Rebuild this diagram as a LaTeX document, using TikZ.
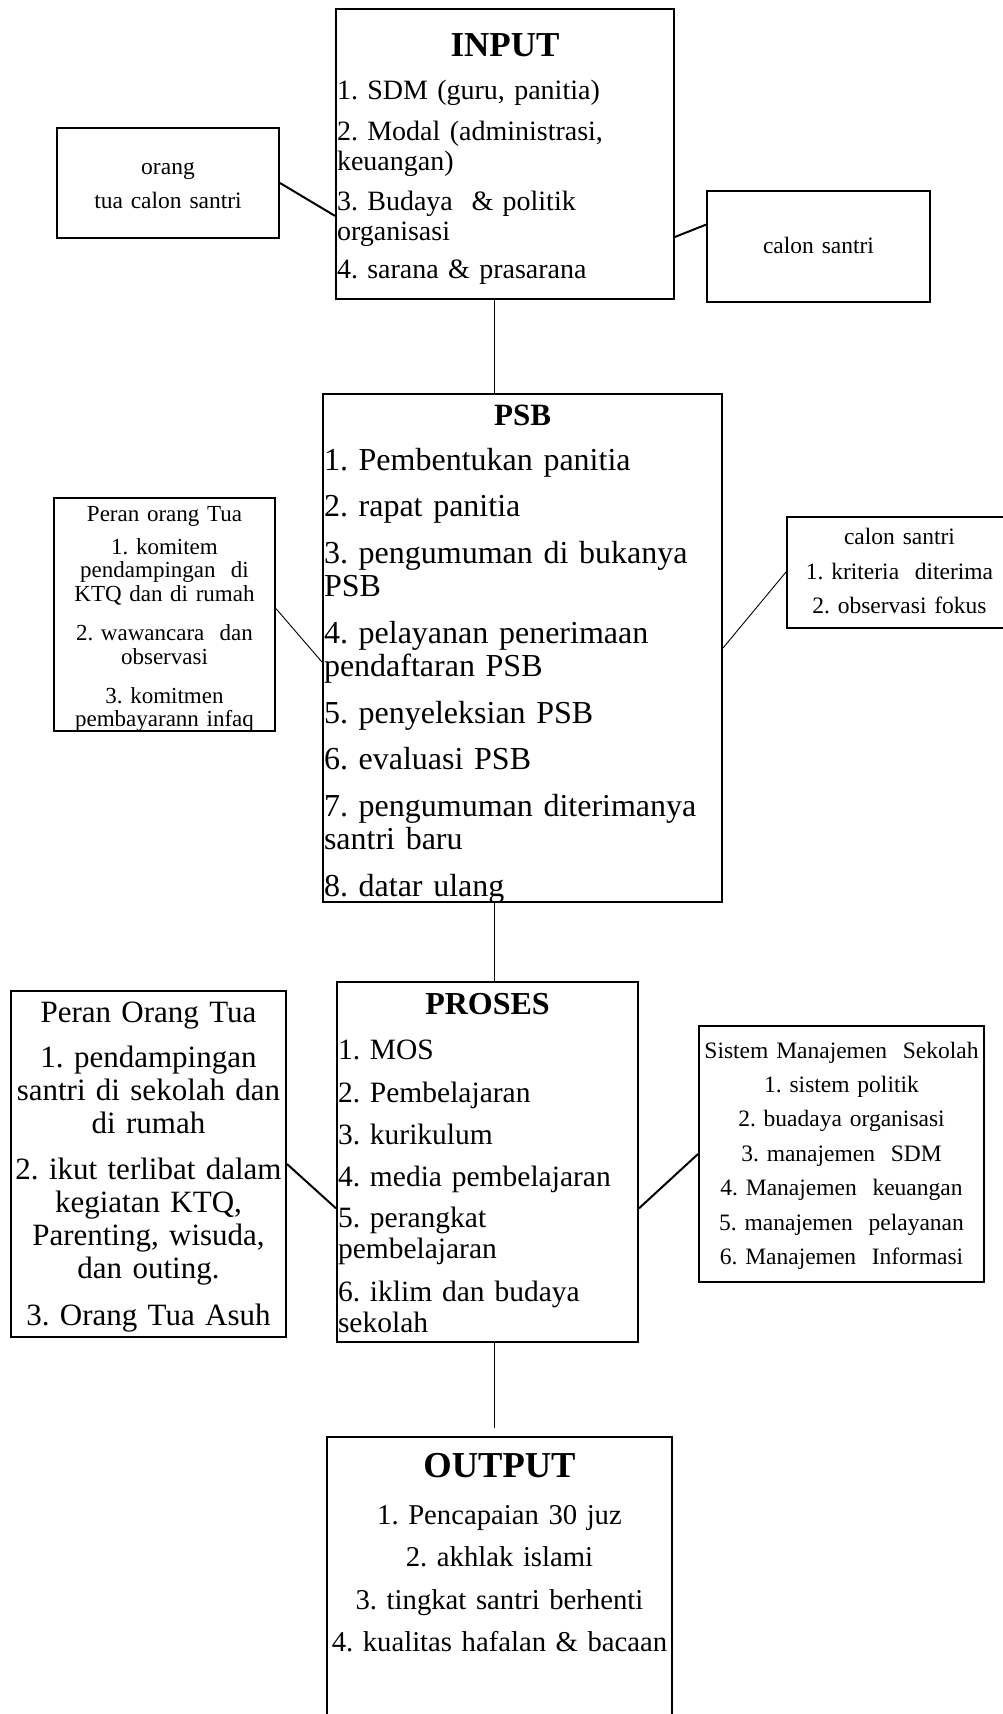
\documentclass[tikz,border=0pt]{standalone}
\usepackage{fontspec}
\setmainfont{Liberation Serif}
\setlength{\parindent}{0pt}
\frenchspacing

\begin{document}
\begin{tikzpicture}[x=1pt,y=-1pt,
  kotak/.style={draw, line width=2pt, inner xsep=1pt, inner ysep=0pt, anchor=base},
  tebal/.style={line width=2pt},
  tipis/.style={line width=0.9pt}]
\useasboundingbox (0,0) rectangle (1003,1714);

\node[kotak, align=left, text width=336pt, text height=47pt, text depth=243pt,
  font=\fontsize{28}{30}\selectfont] (inp) at (505,56)
  {\makebox[\linewidth]{\fontsize{35}{30}\selectfont\bfseries INPUT}\\[13pt]
   1. SDM (guru, panitia)\\[11pt]
   2. Modal (administrasi,\\
   keuangan)\\[10pt]
   3. Budaya\ \ \& politik\\
   organisasi\\[8pt]
   4. sarana \& prasarana};
\node[kotak, align=center, text width=220pt, text height=46pt, text depth=64pt,
  font=\fontsize{23.5}{34}\selectfont] (ortu) at (168,174)
  {orang\\ tua calon santri};
\node[kotak, align=center, text width=221pt, text height=62pt, text depth=49pt,
  font=\fontsize{23.5}{34}\selectfont] (calon) at (818.5,253)
  {calon santri};

\node[kotak, align=left, text width=397pt, text height=31pt, text depth=477pt,
  font=\fontsize{32}{33.5}\selectfont] (psb) at (522.5,425)
  {\makebox[\linewidth]{\fontsize{31}{33.5}\selectfont\bfseries PSB}\\[11.5pt]
   1. Pembentukan panitia\\[13pt]
   2. rapat panitia\\[13pt]
   3. pengumuman di bukanya\\
   PSB\\[13pt]
   4. pelayanan penerimaan\\
   pendaftaran PSB\\[13pt]
   5. penyeleksian PSB\\[13pt]
   6. evaluasi PSB\\[13pt]
   7. pengumuman diterimanya\\
   santri baru\\[13pt]
   8. datar ulang};
\node[kotak, align=center, text width=219pt, text height=23pt, text depth=210pt,
  font=\fontsize{23}{23.5}\selectfont] (peran) at (164.5,521)
  {Peran orang Tua\\[9.5pt]
   1. komitem\\
   pendampingan\ \ di\\
   KTQ dan di rumah\\[16pt]
   2. wawancara\ \ dan\\
   observasi\\[15.5pt]
   3. komitmen\\
   pembayarann infaq};
\node[kotak, align=center, text width=223pt, text height=28pt, text depth=83pt,
  font=\fontsize{23.5}{34.5}\selectfont] (calon2) at (899.5,544.5)
  {calon santri\\
   1. kriteria\ \ diterima\\
   2. observasi fokus};

\node[kotak, align=left, text width=299pt, text height=32.5pt, text depth=327.5pt,
  font=\fontsize{29.5}{31}\selectfont] (pros) at (487.5,1014.5)
  {\makebox[\linewidth]{\fontsize{32}{31}\selectfont\bfseries PROSES}\\[13.5pt]
   1. MOS\\[12pt]
   2. Pembelajaran\\[11pt]
   3. kurikulum\\[11pt]
   4. media pembelajaran\\[10pt]
   5. perangkat\\
   pembelajaran\\[12pt]
   6. iklim dan budaya\\
   sekolah};
\node[kotak, align=center, text width=273pt, text height=31pt, text depth=315pt,
  font=\fontsize{31}{33}\selectfont] (peran2) at (148.5,1022)
  {Peran Orang Tua\\[12pt]
   1. pendampingan\\
   santri di sekolah dan\\
   di rumah\\[13pt]
   2. ikut terlibat dalam\\
   kegiatan KTQ,\\
   Parenting, wisuda,\\
   dan outing.\\[14pt]
   3. Orang Tua Asuh};
\node[kotak, align=center, text width=283pt, text height=32pt, text depth=224pt,
  font=\fontsize{23.5}{34.4}\selectfont] (sms) at (841.5,1058)
  {Sistem Manajemen\ \ Sekolah\\
   1. sistem politik\\
   2. buadaya organisasi\\
   3. manajemen\ \ SDM\\
   4. Manajemen\ \ keuangan\\
   5. manajemen\ \ pelayanan\\
   6. Manajemen\ \ Informasi};

\node[kotak, align=center, text width=343pt, text height=40pt, text depth=253pt,
  font=\fontsize{28.7}{42.5}\selectfont] (outp) at (499.5,1477)
  {{\fontsize{36.5}{42.5}\selectfont\bfseries OUTPUT}\\[4.5pt]
   1. Pencapaian 30 juz\\
   2. akhlak islami\\
   3. tingkat santri berhenti\\
   4. kualitas hafalan \& bacaan};

\coordinate (mid) at (494,0);
\coordinate (ujung) at ([yshift=8pt]outp.north);
\draw[tebal] (ortu.east) -- (inp.200);
\draw[tebal] (inp.-26) -- (calon.169);
\draw[tipis] (mid |- inp.south) -- (mid |- psb.north);
\draw[tipis] (peran.3) -- (psb.184);
\draw[tipis] (calon2.west) -- (psb.east);
\draw[tipis] (mid |- psb.south) -- (mid |- pros.north);
\draw[tebal] (peran2.east) -- (pros.197);
\draw[tebal] (sms.west) -- (pros.-17);
\draw[tipis] (mid |- pros.south) -- (mid |- ujung);
\end{tikzpicture}
\end{document}
